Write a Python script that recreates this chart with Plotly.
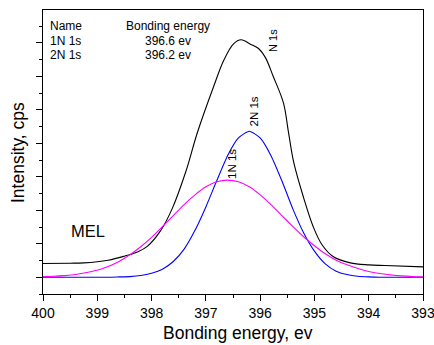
import plotly.graph_objects as go

# ---- data ----
energy_fit = [400.0, 399.8, 399.6, 399.4, 399.2, 399.0, 398.8, 398.6, 398.4, 398.2,
              398.0, 397.8, 397.6, 397.4, 397.2, 397.0, 396.8, 396.6, 396.4, 396.2,
              396.0, 395.8, 395.6, 395.4, 395.2, 395.0, 394.8, 394.6, 394.4, 394.2,
              394.0, 393.8, 393.6, 393.4, 393.2, 393.0]
peak_2n = [0.00, 0.00, 0.00, 0.00, 0.00, 0.00, 0.00, 0.01, 0.02, 0.05,
           0.12, 0.24, 0.47, 0.84, 1.40, 2.10, 2.88, 3.63, 4.16, 4.36,
           4.16, 3.63, 2.88, 2.05, 1.33, 0.78, 0.40, 0.18, 0.08, 0.03,
           0.01, 0.00, 0.00, 0.00, 0.00, 0.00]
peak_1n = [0.02, 0.03, 0.05, 0.08, 0.14, 0.21, 0.32, 0.47, 0.67, 0.91,
           1.19, 1.51, 1.84, 2.17, 2.46, 2.70, 2.85, 2.90, 2.85, 2.70,
           2.46, 2.17, 1.84, 1.52, 1.21, 0.94, 0.70, 0.51, 0.37, 0.26,
           0.17, 0.11, 0.07, 0.04, 0.02, 0.01]

energy_meas = [400.0, 399.5, 399.25, 398.8, 398.5, 398.25, 398.08, 397.83, 397.62,
               397.37, 397.16, 396.86, 396.67, 396.49, 396.35, 396.18, 396.03,
               395.9, 395.76, 395.57, 395.48, 395.38, 395.20, 395.02, 394.86,
               394.65, 394.34, 394.0, 393.7, 393.0]
intensity_meas = [0.41, 0.42, 0.43, 0.51, 0.63, 0.76, 0.92, 1.40, 2.05,
                  3.15, 4.30, 5.68, 6.48, 6.97, 7.09, 6.96, 6.83,
                  6.55, 6.00, 5.20, 4.35, 3.42, 2.38, 1.50, 0.97,
                  0.61, 0.43, 0.37, 0.35, 0.31]

table_names = ["Name", "1N 1s", "2N 1s"]
table_values = ["Bonding energy", "396.6 ev", "396.2 ev"]

x_ticks = [400, 399, 398, 397, 396, 395, 394, 393]

FONT = "Liberation Sans, Arial, Helvetica, sans-serif"

fig = go.Figure()
fig.add_trace(go.Scatter(x=energy_meas, y=intensity_meas, mode="lines",
                         line=dict(color="black", width=1.1, shape="spline", smoothing=1.0)))
fig.add_trace(go.Scatter(x=energy_fit, y=peak_2n, mode="lines",
                         line=dict(color="#0000ff", width=1.1, shape="spline", smoothing=0.6)))
fig.add_trace(go.Scatter(x=energy_fit, y=peak_1n, mode="lines",
                         line=dict(color="#ff00ff", width=1.1, shape="spline", smoothing=0.6)))

# plot area geometry (pixels) for paper conversions
L, R, T, B = 43, 423, 10, 294
W, H = 434, 345
def px_x(p):
    return (p - L) / (R - L)
def px_y(p):
    return (B - p) / (B - T)

ann = []
row_y = [26, 41, 55.5]
for name, val, yy in zip(table_names, table_values, row_y):
    ann.append(dict(x=px_x(48), y=px_y(yy), xref="paper", yref="paper", text=name,
                    showarrow=False, xanchor="left", yanchor="middle",
                    font=dict(size=12, color="black", family=FONT)))
    ann.append(dict(x=px_x(167.5), y=px_y(yy), xref="paper", yref="paper", text=val,
                    showarrow=False, xanchor="center", yanchor="middle",
                    font=dict(size=12, color="black", family=FONT)))

# peak labels (data coordinates)
ann.append(dict(x=395.76, y=7.06, xref="x", yref="y", text="N 1s", textangle=-90,
                showarrow=False, font=dict(size=11, color="black", family=FONT)))
ann.append(dict(x=396.12, y=4.94, xref="x", yref="y", text="2N 1s", textangle=-90,
                showarrow=False, font=dict(size=11.5, color="black", family=FONT)))
ann.append(dict(x=396.52, y=3.38, xref="x", yref="y", text="1N 1s", textangle=-90,
                showarrow=False, font=dict(size=11.5, color="black", family=FONT)))
ann.append(dict(x=399.18, y=1.38, xref="x", yref="y", text="MEL",
                showarrow=False, font=dict(size=16.5, color="black", family=FONT)))

# axis titles
ann.append(dict(x=px_x(238), y=px_y(333), xref="paper", yref="paper",
                text="Bonding energy, ev", showarrow=False, xanchor="center", yanchor="middle",
                font=dict(size=17.5, color="black", family=FONT)))
ann.append(dict(x=px_x(18), y=px_y(153), xref="paper", yref="paper",
                text="Intensity, cps", showarrow=False, textangle=-90,
                xanchor="center", yanchor="middle",
                font=dict(size=17.5, color="black", family=FONT)))

fig.update_layout(
    width=W, height=H,
    margin=dict(l=L, r=W - R, t=T, b=H - B, autoexpand=False),
    paper_bgcolor="white", plot_bgcolor="white",
    showlegend=False,
    annotations=ann,
    xaxis=dict(range=[400, 393], tickmode="array", tickvals=x_ticks,
               ticktext=[str(v) for v in x_ticks], ticklabeloverflow="allow",
               automargin=False,
               ticks="outside", ticklen=6, tickwidth=1, tickcolor="black",
               minor=dict(dtick=0.5, ticks="outside", ticklen=3, tickwidth=1, tickcolor="black"),
               showgrid=False, zeroline=False,
               showline=True, linecolor="black", linewidth=1, mirror=True,
               tickfont=dict(size=14, color="black", family=FONT)),
    yaxis=dict(range=[-0.5, 7.98], dtick=1, tick0=0, automargin=False,
               ticks="outside", ticklen=6, tickwidth=1, tickcolor="black",
               minor=dict(dtick=0.5, ticks="outside", ticklen=3.5, tickwidth=1, tickcolor="black"),
               showticklabels=False, showgrid=False, zeroline=False,
               showline=True, linecolor="black", linewidth=1, mirror=True),
)

fig.write_html("out.html", config={"displayModeBar": False},
               post_script="document.body.style.margin='0';document.body.style.overflow='hidden';")
